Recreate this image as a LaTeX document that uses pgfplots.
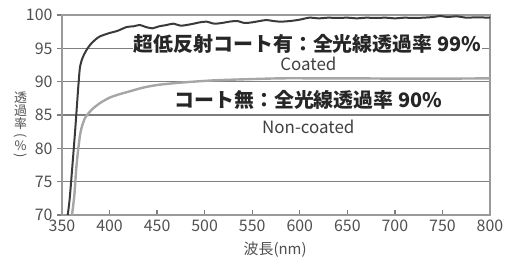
\documentclass[border=0pt]{standalone}
\usepackage{pgfplots}
\pgfplotsset{compat=1.18}
\usepackage{graphicx}
\usepackage{fontspec}
\setmainfont{Noto Sans CJK JP}
\usetikzlibrary{calc}
\definecolor{gridc}{HTML}{7E7E7E}
\definecolor{framec}{HTML}{9A9A9A}
\definecolor{coatc}{HTML}{3A3A3A}
\definecolor{ncoatc}{HTML}{A6A6A6}
\definecolor{labc}{HTML}{505050}
\tikzset{ylab/.style={font=\fontsize{13}{13}\selectfont, text=labc, inner sep=0pt}}
\begin{document}
\begin{tikzpicture}
\begin{axis}[name=ax, scale only axis, width=428bp, height=200bp,
  xmin=350, xmax=800, ymin=70, ymax=100,
  xtick={350,400,...,800}, ytick={70,75,...,100},
  ymajorgrids, grid style={gridc, line width=1.4bp},
  axis line style={framec, line width=1.3bp},
  xtick pos=bottom, ytick pos=left,
  xtick align=inside, ytick align=outside,
  major tick length=5bp,
  tick style={gridc, line width=1.3bp},
  /pgf/number format/assume math mode=true,
  /pgf/number format/1000 sep={},
  tick label style={font=\fontsize{16}{16}\selectfont, text=labc},
  xticklabel style={yshift=-1bp},
  yticklabel style={xshift=-1bp},
  clip=false]
\addplot[ncoatc, line width=2.4bp, smooth, tension=0.4] coordinates {
(360.5,70)(363,73)(365,77)(367,79.8)(369,82)(371,83.3)(374,84.5)(377,85.1)(382,85.9)(390,86.8)(400,87.6)(410,88.1)(420,88.5)(435,89.1)(450,89.5)(470,89.8)(488,90.0)(510,90.2)(540,90.35)(580,90.5)(620,90.5)(660,90.5)(700,90.45)(750,90.45)(800,90.5)
};
\addplot[coatc, line width=2bp, smooth, tension=0.4] coordinates {
(356,70)(358,72.3)(361,77.5)(364,83)(367,89)(369,92.3)(372,93.7)(376,94.8)(380,95.6)(385,96.3)(390,96.8)(400,97.3)(408,97.6)(418,98.2)(425,98.3)(432,98.5)(438,98.2)(445,98.0)(452,98.3)(460,98.5)(467,98.7)(475,98.4)(485,98.6)(495,98.9)(502,99.0)(510,98.7)(518,98.8)(526,99.0)(534,99.1)(542,98.8)(550,98.9)(558,99.1)(565,99.25)(572,99.1)(580,99.0)(590,99.1)(600,99.3)(610,99.6)(620,99.5)(630,99.6)(640,99.55)(650,99.6)(660,99.5)(670,99.6)(680,99.55)(690,99.6)(700,99.5)(710,99.6)(720,99.55)(730,99.6)(740,99.7)(748,99.85)(755,99.7)(765,99.8)(775,99.6)(785,99.65)(800,99.6)
};
\node[fill=white, inner sep=0.5bp, font=\fontsize{20}{20}\selectfont\bfseries, text=black!85] at (axis cs:608,95.65) {超低反射コート有：全光線透過率 99\%};
\node[font=\fontsize{17}{17}\selectfont, text=black!75] at (axis cs:609,92.6) {Coated};
\node[fill=white, inner sep=0.5bp, font=\fontsize{20}{20}\selectfont\bfseries, text=black!85] at (axis cs:609,87.25) {コート無：全光線透過率 90\%};
\node[font=\fontsize{17}{17}\selectfont, text=black!75] at (axis cs:609,83.2) {Non-coated};
\node[font=\fontsize{15}{15}\selectfont, text=labc] at (axis description cs:0.498,-0.175) {波長(nm)};
\node[ylab] at (axis description cs:-0.097,0.5875) {透};
\node[ylab] at (axis description cs:-0.097,0.52) {過};
\node[ylab] at (axis description cs:-0.097,0.455) {率};
\node[ylab] at (axis description cs:-0.097,0.395) {\rotatebox{-90}{(}};
\node[ylab] at (axis description cs:-0.097,0.345) {\%};
\node[ylab] at (axis description cs:-0.097,0.295) {\rotatebox{-90}{)}};
\end{axis}
\pgfresetboundingbox
\path ($(ax.south west)+(-62bp,-47bp)$) rectangle ($(ax.north east)+(23bp,15bp)$);
\end{tikzpicture}
\end{document}
